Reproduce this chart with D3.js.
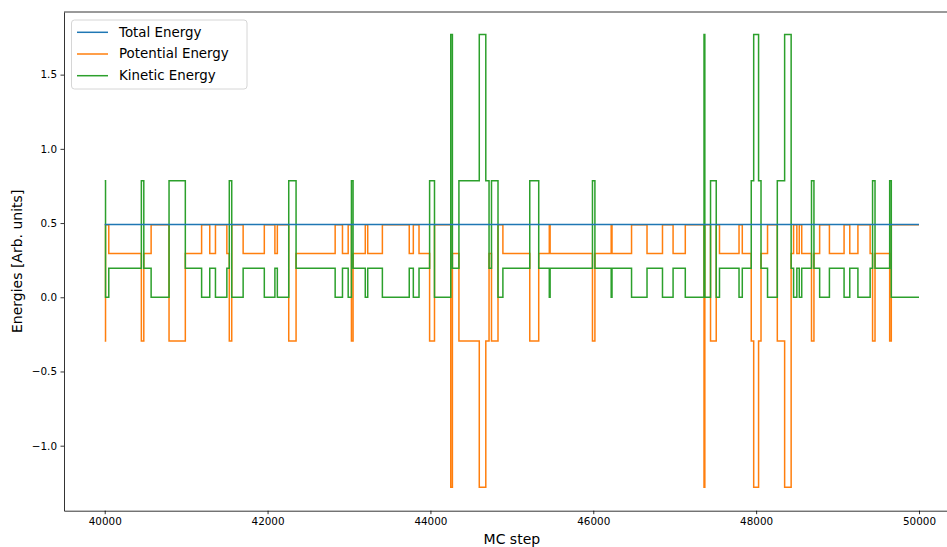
<!DOCTYPE html>
<html>
<head>
<meta charset="utf-8">
<script src="https://cdnjs.cloudflare.com/ajax/libs/d3/7.8.5/d3.min.js"></script>
<style>
  body { margin: 0; background: #fff; }
  svg { display: block; font-family: "DejaVu Sans", sans-serif; }
</style>
</head>
<body>
<svg></svg>
<script>
// MC steps where the energies change (step-after)
const steps = [40000, 40010, 40050, 40450, 40480, 40570, 40790, 40990, 41190, 41290,
  41360, 41500, 41530, 41560, 41700, 41960, 42090, 42120, 42260, 42350,
  42830, 42920, 42990, 43030, 43050, 43200, 43230, 43410, 43740, 43790,
  43860, 43990, 44050, 44250, 44270, 44350, 44600, 44680, 44720, 44750,
  44830, 44890, 45220, 45330, 45460, 45470, 45990, 46020, 46220, 46230,
  46470, 46660, 46850, 46980, 47130, 47360, 47370, 47440, 47510, 47550,
  47790, 47830, 47940, 47970, 48030, 48060, 48140, 48260, 48350, 48430,
  48460, 48500, 48530, 48560, 48680, 48710, 48780, 48900, 49080, 49150,
  49250, 49400, 49430, 49460, 49640, 49660, 50000];

const kinetic = [0.785, 0, 0.196, 0.785, 0.196, 0, 0.785, 0.196, 0, 0.196,
  0, 0.196, 0.785, 0, 0.196, 0, 0.196, 0, 0.785, 0.196,
  0, 0.196, 0, 0.785, 0.196, 0, 0.196, 0, 0.196, 0,
  0.196, 0.785, 0, 1.77, 0.196, 0.785, 1.77, 0.785, 0.196, 0.785,
  0, 0.196, 0.785, 0.196, 0, 0.196, 0.785, 0.196, 0, 0.196,
  0, 0.196, 0, 0.196, 0, 1.77, 0, 0.785, 0, 0.196,
  0, 0.196, 0.785, 1.77, 0.785, 0.196, 0, 0.785, 1.77, 0.196,
  0, 0.196, 0, 0.196, 0.785, 0.196, 0, 0.196, 0, 0.196,
  0, 0.196, 0.785, 0.196, 0.785, 0, 0];

const potential = [-0.295, 0.488, 0.295, -0.295, 0.295, 0.488, -0.295, 0.295, 0.488, 0.295,
  0.488, 0.295, -0.295, 0.488, 0.295, 0.488, 0.295, 0.488, -0.295, 0.295,
  0.488, 0.295, 0.488, -0.295, 0.295, 0.488, 0.295, 0.488, 0.295, 0.488,
  0.295, -0.295, 0.488, -1.28, 0.295, -0.295, -1.28, -0.295, 0.295, -0.295,
  0.488, 0.295, -0.295, 0.295, 0.488, 0.295, -0.295, 0.295, 0.488, 0.295,
  0.488, 0.295, 0.488, 0.295, 0.488, -1.28, 0.488, -0.295, 0.488, 0.295,
  0.488, 0.295, -0.295, -1.28, -0.295, 0.295, 0.488, -0.295, -1.28, 0.295,
  0.488, 0.295, 0.488, 0.295, -0.295, 0.295, 0.488, 0.295, 0.488, 0.295,
  0.488, 0.295, -0.295, 0.295, -0.295, 0.488, 0.488];

const totalSteps = [40000, 50000];
const total = [0.491, 0.491];

const seriesNames = ["Total Energy", "Potential Energy", "Kinetic Energy"];
const seriesColors = ["#1f77b4", "#ff7f0e", "#2ca02c"];
const xTicks = [40000, 42000, 44000, 46000, 48000, 50000];
const yTicks = [-1.0, -0.5, 0.0, 0.5, 1.0, 1.5];

const W = 947, H = 547;
const svg = d3.select("svg").attr("width", W).attr("height", H);

// axes box (the right part of the figure is cut off in the picture)
const x = d3.scaleLinear().domain([39500, 50500]).range([64, 959.7]);
const y = d3.scaleLinear().domain([-1.438, 1.922]).range([510.7, 12]);

const fmt = d => d3.format(".1f")(d).replace("-", "\u2212");

const line = d3.line()
    .x(d => x(d[0]))
    .y(d => y(d[1]))
    .curve(d3.curveStepAfter);

const series = [
  d3.zip(totalSteps, total),
  d3.zip(steps, potential),
  d3.zip(steps, kinetic)
];

// total energy ends up on top of the potential where they overlap
const order = [1, 2, 0];
const plot = svg.append("g");
order.forEach(i => {
  plot.append("path")
      .attr("d", line(series[i]))
      .attr("fill", "none")
      .attr("stroke", seriesColors[i])
      .attr("stroke-width", 1.5)
      .attr("stroke-linejoin", "miter");
});

// axes
const xAxis = svg.append("g")
    .attr("transform", "translate(0,510.7)")
    .call(d3.axisBottom(x).tickValues(xTicks).tickFormat(d3.format("d"))
      .tickSizeInner(3.5).tickSizeOuter(0).tickPadding(3.5));
const yAxis = svg.append("g")
    .attr("transform", "translate(64,0)")
    .call(d3.axisLeft(y).tickValues(yTicks).tickFormat(fmt)
      .tickSizeInner(3.5).tickSizeOuter(0).tickPadding(3.5));

[xAxis, yAxis].forEach(g => {
  g.select(".domain").attr("stroke", "#000").attr("stroke-width", 0.8);
  g.selectAll(".tick line").attr("stroke", "#000").attr("stroke-width", 0.8);
  g.selectAll(".tick text").attr("fill", "#000")
    .style("font-family", "DejaVu Sans").style("font-size", "10.4px");
});

// top spine
svg.append("line")
    .attr("x1", 64).attr("x2", 959.7).attr("y1", 12).attr("y2", 12)
    .attr("stroke", "#000").attr("stroke-width", 0.8);

// axis labels
svg.append("text")
    .attr("x", (64 + 959.7) / 2).attr("y", 544)
    .attr("text-anchor", "middle")
    .style("font-size", "14px")
    .text("MC step");
svg.append("text")
    .attr("transform", "translate(22," + (12 + 510.7) / 2 + ") rotate(-90)")
    .attr("text-anchor", "middle")
    .style("font-size", "14px")
    .text("Energies [Arb. units]");

// legend
const lg = svg.append("g");
lg.append("rect")
    .attr("x", 71.5).attr("y", 20).attr("width", 175.5).attr("height", 69)
    .attr("rx", 3)
    .attr("fill", "#fff").attr("fill-opacity", 0.8)
    .attr("stroke", "#d6d6d6").attr("stroke-width", 1);
seriesNames.forEach((name, i) => {
  const ly = 32.3 + i * 21.7;
  lg.append("line")
      .attr("x1", 77).attr("x2", 108).attr("y1", ly).attr("y2", ly)
      .attr("stroke", seriesColors[i]).attr("stroke-width", 1.5);
  lg.append("text")
      .attr("x", 119).attr("y", ly + 4.4)
      .style("font-size", "13.4px")
      .text(name);
});
</script>
</body>
</html>
